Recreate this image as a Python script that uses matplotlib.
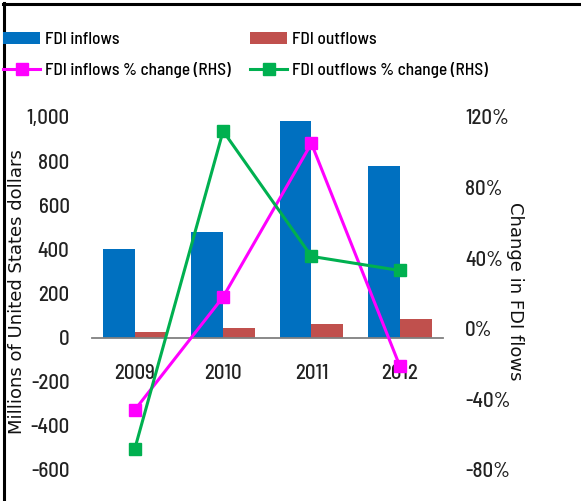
import matplotlib
matplotlib.use("Agg")
import matplotlib.pyplot as plt
from matplotlib.lines import Line2D
import numpy as np

plt.rcParams["font.family"] = ["Barlow Semi Condensed", "DejaVu Sans"]
plt.rcParams["font.weight"] = "medium"

# ---------- data ----------
years = ["2009", "2010", "2011", "2012"]
fdi_inflows = [403, 480, 983, 779]
fdi_outflows = [25, 45, 63, 82]
inflows_pct = [-46, 18, 105, -21]
outflows_pct = [-68, 112, 41, 33]

blue = "#0070C0"
red = "#C0504D"
magenta = "#FF00FF"
green = "#00B050"

fig = plt.figure(figsize=(5.81, 5.01), dpi=100)
ax = fig.add_axes([0.158, 0.062, 0.604, 0.7046])

x = np.arange(len(years))
w = 0.36
b1 = ax.bar(x - w / 2, fdi_inflows, w, color=blue, label="FDI inflows")
b2 = ax.bar(x + w / 2, fdi_outflows, w, color=red, label="FDI outflows")

ax.set_xlim(-0.487, 3.487)
ax.set_ylim(-600, 1000)
ax.set_yticks(range(-600, 1001, 200))
ax.set_yticklabels(["{:,}".format(v) for v in range(-600, 1001, 200)])
ax.set_xticks(x)
ax.set_xticklabels(years)

for s in ["top", "right", "left"]:
    ax.spines[s].set_visible(False)
ax.spines["bottom"].set_position(("data", 0))
ax.spines["bottom"].set_color("#808080")
ax.spines["bottom"].set_linewidth(1.3)
ax.tick_params(axis="x", length=0, pad=19, labelsize=15, colors="#222222")
ax.tick_params(axis="y", length=0, pad=16, labelsize=15, colors="#222222")
# 轴标题字距较宽，用 DejaVu Sans
ax.set_ylabel("Millions of United States dollars", fontsize=13,
              family="DejaVu Sans", fontweight="normal", color="#111111")
ax.yaxis.set_label_coords(-0.188, 0.505)

# ---------- 右轴：增长率 ----------
ax2 = ax.twinx()
l1, = ax2.plot(x, inflows_pct, color=magenta, lw=2.2, marker="s", ms=8,
               label="FDI inflows % change (RHS)")
l2, = ax2.plot(x, outflows_pct, color=green, lw=2.2, marker="s", ms=8,
               label="FDI outflows % change (RHS)")
ax2.set_ylim(-80, 120)
ax2.set_yticks(range(-80, 121, 40))
ax2.set_yticklabels(["{}%".format(v) for v in range(-80, 121, 40)])
for s in ax2.spines.values():
    s.set_visible(False)
ax2.tick_params(axis="y", length=0, pad=16, labelsize=15, colors="#222222")
ax2.set_ylabel("Change in FDI flows", fontsize=13, rotation=-90,
               family="DejaVu Sans", fontweight="normal", color="#111111")
ax2.yaxis.set_label_coords(1.232, 0.505)

# ---------- 图例 ----------
fig.legend([b1, l1, b2, l2],
           ["FDI inflows", "FDI inflows % change (RHS)",
            "FDI outflows", "FDI outflows % change (RHS)"],
           ncol=2, loc="upper left", bbox_to_anchor=(0.0, 0.943),
           frameon=False, fontsize=12.4, handlelength=2.15, handleheight=0.7,
           handletextpad=0.25, columnspacing=1.15, labelspacing=0.85,
           borderaxespad=0, borderpad=0.2)

# ---------- 边框 ----------
fig.add_artist(Line2D([0.007, 0.007], [0, 0.994], color="black", lw=2.2,
                      transform=fig.transFigure))
fig.add_artist(Line2D([0.005, 1.0], [0.992, 0.992], color="black", lw=2.2,
                      transform=fig.transFigure))

fig.savefig("out.png", dpi=100)
